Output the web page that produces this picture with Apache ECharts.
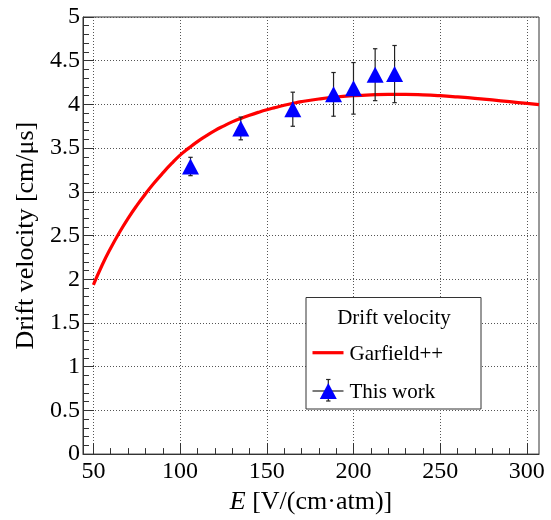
<!DOCTYPE html>
<html>
<head>
<meta charset="utf-8">
<script src="https://cdn.jsdelivr.net/npm/echarts@6/dist/echarts.min.js"></script>
<style>
html,body{margin:0;padding:0;background:#fff;}
#c{width:551px;height:520px;}
</style>
</head>
<body>
<div id="c"></div>
<script>
// Garfield++ simulation curve
const garfieldE = [50, 55, 60, 65, 70, 75, 80, 85, 90, 95, 100, 105, 110, 115, 120, 125, 130, 135, 140, 145, 150, 155, 160, 165, 170, 180, 190, 200, 210, 220, 230, 240, 250, 260, 270, 280, 290, 300, 307];
const garfieldV = [1.935, 2.16, 2.357, 2.535, 2.697, 2.843, 2.976, 3.10, 3.215, 3.322, 3.42, 3.50, 3.575, 3.64, 3.70, 3.752, 3.80, 3.84, 3.876, 3.909, 3.939, 3.965, 3.99, 4.012, 4.032, 4.062, 4.085, 4.10, 4.11, 4.115, 4.115, 4.11, 4.10, 4.086, 4.07, 4.051, 4.031, 4.011, 3.997];
// This work measurements
const workE = [106, 135, 165, 188.5, 200, 212.5, 223.7];
const workV = [3.29, 3.725, 3.945, 4.115, 4.184, 4.34, 4.347];
const workErr = [0.105, 0.13, 0.195, 0.25, 0.295, 0.297, 0.327];
// axis ticks
const xMajorTicks = [50, 100, 150, 200, 250, 300];
const xMinorTicks = [60, 70, 80, 90, 110, 120, 130, 140, 160, 170, 180, 190, 210, 220, 230, 240, 260, 270, 280, 290];
const xTitle = '{i|E}{n| [V/(cm·atm)]}';
const yTitle = 'Drift velocity [cm/μs]';
const legendHeader = 'Drift velocity';
const seriesNames = ['Garfield++', 'This work'];

const FONT = 'Liberation Serif';
const X_MIN = 44, X_MAX = 307;

const chart = echarts.init(document.getElementById('c'), null, {renderer: 'canvas'});

const curveData = garfieldE.map((e, i) => [e, garfieldV[i]]);
const workData = workE.map((e, i) => [e, workV[i], workErr[i]]);

const gridLine = {show: true, lineStyle: {color: '#555', width: 1, type: [1, 2]}};
const txt = {fontFamily: FONT, fontSize: 24, color: '#000'};
const ttl = {fontFamily: FONT, fontSize: 26, color: '#000'};
const LFONT = '21px "Liberation Serif"';

const option = {
  animation: false,
  backgroundColor: '#fff',
  textStyle: {fontFamily: FONT},
  grid: {left: 83, top: 17, width: 456, height: 446, show: true, borderColor: '#333', borderWidth: 1, backgroundColor: 'transparent'},
  xAxis: [{
    type: 'value', min: X_MIN, max: X_MAX,
    axisLine: {show: true, lineStyle: {color: '#333', width: 1}},
    axisTick: {show: true, inside: true, length: 11, customValues: xMajorTicks, lineStyle: {color: '#333'}},
    axisLabel: {show: true, customValues: xMajorTicks, margin: 6, fontFamily: FONT, fontSize: 24, color: '#000',
      formatter: v => '{t|' + v + '}', rich: {t: txt}},
    splitLine: Object.assign({customValues: xMajorTicks}, gridLine),
    name: xTitle, nameLocation: 'middle', nameGap: 26,
    nameTextStyle: {fontFamily: FONT, fontSize: 26, color: '#000', rich: {i: Object.assign({fontStyle: 'italic'}, ttl), n: ttl}}
  }, {
    type: 'value', min: X_MIN, max: X_MAX, position: 'bottom',
    axisLine: {show: false},
    axisTick: {show: true, inside: true, length: 6, customValues: xMinorTicks, lineStyle: {color: '#333'}},
    axisLabel: {show: false},
    splitLine: {show: false}
  }],
  yAxis: {
    type: 'value', min: 0, max: 5, interval: 0.5,
    axisLine: {show: true, lineStyle: {color: '#333', width: 1}},
    axisTick: {show: true, inside: true, length: 11, lineStyle: {color: '#333'}},
    minorTick: {show: true, splitNumber: 5, length: 6, lineStyle: {color: '#333'}},
    axisLabel: {margin: 3, fontFamily: FONT, fontSize: 24, color: '#000',
      formatter: v => '{t|' + v + '}', rich: {t: txt}},
    splitLine: gridLine,
    name: '{t|' + yTitle + '}', nameLocation: 'middle', nameGap: 42, nameRotate: 90,
    nameTextStyle: {fontFamily: FONT, fontSize: 26, color: '#000', rich: {t: ttl}}
  },
  series: [{
    name: seriesNames[0], type: 'line', data: curveData, smooth: true, showSymbol: false,
    lineStyle: {color: '#ff0000', width: 3.2}, z: 3
  }, {
    name: seriesNames[1] + ' errors', type: 'custom', data: workData,
    encode: {x: 0, y: 1}, z: 4,
    renderItem: function (params, api) {
      const x = api.value(0), y = api.value(1), e = api.value(2);
      const top = api.coord([x, y + e]);
      const bot = api.coord([x, y - e]);
      const cw = 2.2;
      const st = {stroke: '#222', lineWidth: 1.2};
      return {type: 'group', children: [
        {type: 'line', shape: {x1: top[0], y1: top[1], x2: bot[0], y2: bot[1]}, style: st},
        {type: 'line', shape: {x1: top[0] - cw, y1: top[1], x2: top[0] + cw, y2: top[1]}, style: st},
        {type: 'line', shape: {x1: bot[0] - cw, y1: bot[1], x2: bot[0] + cw, y2: bot[1]}, style: st}
      ]};
    }
  }, {
    name: seriesNames[1], type: 'scatter', data: workData, symbol: 'triangle', symbolSize: [17, 16],
    itemStyle: {color: '#0000ff', opacity: 1}, z: 5
  }],
  graphic: [
    {type: 'rect', z: 10, shape: {x: 306, y: 297.5, width: 175, height: 111.5}, style: {fill: '#fff', stroke: '#333', lineWidth: 1}},
    {type: 'text', z: 11, x: 394, y: 318, style: {text: legendHeader, font: LFONT, fill: '#000', align: 'center', verticalAlign: 'middle'}},
    {type: 'line', z: 11, shape: {x1: 312.5, y1: 352.7, x2: 343.5, y2: 352.7}, style: {stroke: '#ff0000', lineWidth: 3.2}},
    {type: 'text', z: 11, x: 349.5, y: 354, style: {text: seriesNames[0], font: LFONT, fill: '#000', align: 'left', verticalAlign: 'middle'}},
    {type: 'line', z: 11, shape: {x1: 312.5, y1: 391, x2: 343.5, y2: 391}, style: {stroke: '#222', lineWidth: 1.2}},
    {type: 'line', z: 11, shape: {x1: 328.3, y1: 379.5, x2: 328.3, y2: 401}, style: {stroke: '#222', lineWidth: 1.2}},
    {type: 'line', z: 11, shape: {x1: 326.1, y1: 379.5, x2: 330.5, y2: 379.5}, style: {stroke: '#222', lineWidth: 1.2}},
    {type: 'line', z: 11, shape: {x1: 326.1, y1: 401, x2: 330.5, y2: 401}, style: {stroke: '#222', lineWidth: 1.2}},
    {type: 'polygon', z: 12, shape: {points: [[328.3, 383], [336.8, 399], [319.8, 399]]}, style: {fill: '#0000ff'}},
    {type: 'text', z: 11, x: 349.5, y: 392, style: {text: seriesNames[1], font: LFONT, fill: '#000', align: 'left', verticalAlign: 'middle'}}
  ]
};
chart.setOption(option);
</script>
</body>
</html>
